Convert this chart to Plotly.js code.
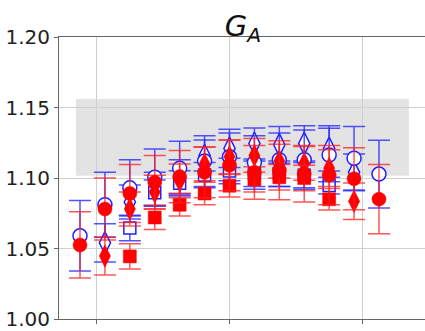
<!DOCTYPE html>
<html>
<head>
<meta charset="utf-8">
<script src="https://cdn.plot.ly/plotly-3.0.1.min.js"></script>
<style>html,body{margin:0;padding:0;overflow:hidden;background:#fff}#chart{width:445px;height:331px}</style>
</head>
<body>
<div id="chart"></div>
<script>
// point index along x (1..13)
const xIndex = [1,2,3,4,5,6,7,8,9,10,11,12,13];

// blue open circles
const blueCircle    = [1.059, 1.081, 1.093, 1.1005, 1.107, 1.112, 1.115, 1.111, 1.113, 1.113, 1.1163, 1.114, 1.1028];
const blueCircleErr = [0.025, 0.023, 0.020, 0.020, 0.019, 0.018, 0.017, 0.019, 0.019, 0.021, 0.019, 0.0225, 0.024];
// red filled circles
const redCircle     = [1.0525, 1.078, 1.089, 1.097, 1.101, 1.104, 1.109, 1.104, 1.1055, 1.103, 1.102, 1.0995, 1.085];
const redCircleErr  = [0.0235, 0.022, 0.0205, 0.019, 0.0185, 0.018, 0.018, 0.019, 0.021, 0.020, 0.021, 0.022, 0.0245];
// blue open diamonds
const blueDiamond    = [null, 1.054, 1.083, 1.092, 1.101, 1.116, 1.121, 1.1245, 1.1235, 1.1245, 1.121, 1.104, null];
const blueDiamondErr = [null, 0.0135, 0.012, 0.012, 0.012, 0.011, 0.0135, 0.011, 0.013, 0.0125, 0.016, 0.013, null];
// red filled diamonds
const redDiamond    = [null, 1.0447, 1.078, 1.090, 1.098, 1.110, 1.115, 1.116, 1.112, 1.1104, 1.107, 1.0835, null];
const redDiamondErr = [null, 0.0135, 0.012, 0.012, 0.012, 0.012, 0.012, 0.012, 0.012, 0.012, 0.013, 0.013, null];
// blue open squares
const blueSquare    = [null, null, 1.0645, 1.0895, 1.0962, 1.102, 1.105, 1.103, 1.103, 1.102, 1.0946, null, null];
const blueSquareErr = [null, null, 0.009, 0.009, 0.009, 0.009, 0.009, 0.009, 0.009, 0.009, 0.006, null, null];
// red filled squares
const redSquare     = [null, null, 1.0444, 1.072, 1.081, 1.089, 1.0945, 1.099, 1.1005, 1.100, 1.0849, null, null];
const redSquareErr  = [null, null, 0.009, 0.0085, 0.008, 0.008, 0.008, 0.009, 0.009, 0.009, 0.0076, null, null];

// reference band
const bandX = [0.84, 14.2];
const bandY = [1.1016, 1.156];

const yTicks = [1.00, 1.05, 1.10, 1.15, 1.20];
const yTickText = ['1.00', '1.05', '1.10', '1.15', '1.20'];

const BLUE = '#1f1fff', RED = '#ff0000';
const BLUE_ERR = 'rgba(40,40,255,0.8)', RED_ERR = 'rgba(255,30,30,0.75)';

function tr(y, err, symbol, size, open, col, ecol) {
  return {
    x: xIndex, y: y, type: 'scatter', mode: 'markers',
    error_y: {type: 'data', array: err, visible: true, color: ecol, thickness: 1.5, width: 11},
    marker: {
      symbol: symbol, size: size,
      color: open ? '#ffffff' : col,
      line: {color: col, width: open ? 1.5 : 0.5}
    },
    hoverinfo: 'skip', showlegend: false
  };
}

const data = [
  tr(blueDiamond, blueDiamondErr, 'diamond-tall', 16, true, BLUE, BLUE_ERR),
  tr(blueSquare, blueSquareErr, 'square', 12, true, BLUE, BLUE_ERR),
  tr(blueCircle, blueCircleErr, 'circle', 14, true, BLUE, BLUE_ERR),
  tr(redDiamond, redDiamondErr, 'diamond-tall', 16, false, RED, RED_ERR),
  tr(redSquare, redSquareErr, 'square', 13, false, RED, RED_ERR),
  tr(redCircle, redCircleErr, 'circle', 14, false, RED, RED_ERR)
];

const layout = {
  width: 445, height: 331,
  margin: {l: 59, r: 0, t: 37, b: 12, pad: 0},
  paper_bgcolor: '#fff', plot_bgcolor: '#fff',
  font: {family: 'DejaVu Sans, sans-serif', size: 20, color: '#222'},
  title: {
    text: '<i>G<sub>A</sub></i>',
    font: {family: 'DejaVu Sans, sans-serif', size: 29, color: '#111'},
    xref: 'container', x: 243/445, xanchor: 'center',
    yref: 'container', y: 1 - 26/331, yanchor: 'middle'
  },
  xaxis: {
    range: [0.157, 15.65],
    tick0: 1.68, dtick: 5.32, tickmode: 'linear',
    showticklabels: false,
    ticks: 'outside', ticklen: 4, tickcolor: '#666', tickwidth: 1,
    showgrid: true, gridcolor: '#cfcfcf', gridwidth: 1,
    showline: true, linecolor: '#666', linewidth: 1, mirror: true,
    zeroline: false
  },
  yaxis: {
    range: [1.0, 1.2],
    tickmode: 'array', tickvals: yTicks, ticktext: yTickText,
    ticks: 'outside', ticklen: 4, tickcolor: '#666', tickwidth: 1,
    showgrid: true, gridcolor: '#cfcfcf', gridwidth: 1,
    showline: true, linecolor: '#666', linewidth: 1,
    zeroline: false,
    tickfont: {family: 'DejaVu Sans, sans-serif', size: 20, color: '#222'}
  },
  shapes: [{
    type: 'rect', xref: 'x', yref: 'y', layer: 'below',
    x0: bandX[0], x1: bandX[1], y0: bandY[0], y1: bandY[1],
    fillcolor: '#e3e3e3', line: {width: 0}
  }]
};

Plotly.newPlot('chart', data, layout, {displayModeBar: false, staticPlot: true});
</script>
</body>
</html>
